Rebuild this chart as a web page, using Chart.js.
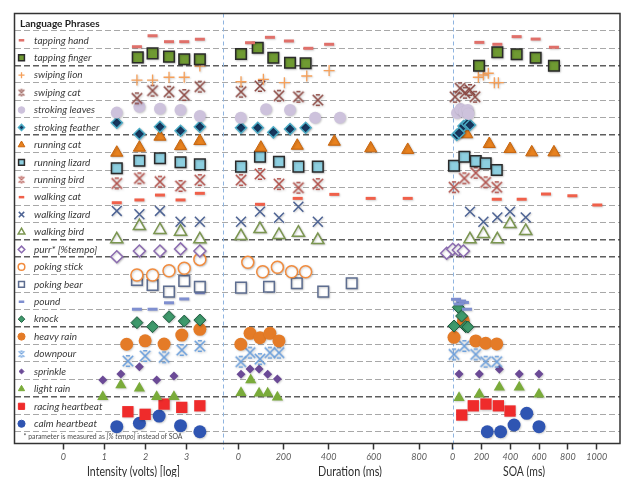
<!DOCTYPE html>
<html>
<head>
<meta charset="utf-8">
<script src="https://cdn.jsdelivr.net/npm/chart.js@4/dist/chart.umd.min.js"></script>
<style>
  html, body { margin: 0; padding: 0; background: #ffffff; }
  canvas { display: block; }
</style>
</head>
<body>
<canvas id="chart" width="625" height="477"></canvas>
<script>
// Phrase rows, top to bottom
const phrases = [
  'tapping hand', 'tapping finger', 'swiping lion', 'swiping cat',
  'stroking leaves', 'stroking feather', 'running cat', 'running lizard',
  'running bird', 'walking cat', 'walking lizard', 'walking bird',
  'purr* [%tempo]', 'poking stick', 'poking bear', 'pound', 'knock',
  'heavy rain', 'downpour', 'sprinkle', 'light rain', 'racing heartbeat',
  'calm heartbeat'
];

// Each point: [value, vertical position in row units (row k spans k..k+1)]
const intensityPoints = [
  [[1.79,0.92],[2.17,0.29],[2.57,0.63],[2.94,0.63],[3.32,0.49]],
  [[1.81,1.53],[2.17,1.30],[2.57,1.49],[2.94,1.64],[3.32,1.64]],
  [[1.79,2.83],[2.17,2.83],[2.57,2.67],[2.94,2.67],[3.32,2.03]],
  [[1.79,3.88],[2.17,3.44],[2.57,3.50],[2.94,3.69],[3.32,3.21]],
  [[1.30,4.70],[1.85,4.36],[2.35,4.48],[2.85,4.55],[3.32,4.89]],
  [[1.30,5.28],[1.85,5.93],[2.35,5.51],[2.85,5.74],[3.32,5.51]],
  [[1.30,7.00],[1.85,6.71],[2.35,6.08],[2.85,6.62],[3.32,6.33]],
  [[1.30,7.89],[1.85,7.46],[2.35,7.32],[2.85,7.55],[3.32,7.67]],
  [[1.30,8.76],[1.85,8.47],[2.35,8.66],[2.85,8.91],[3.32,8.57]],
  [[1.30,9.87],[1.85,9.71],[2.35,9.43],[2.85,9.71],[3.32,9.33]],
  [[1.30,10.34],[1.85,10.53],[2.35,10.34],[2.85,10.96],[3.32,10.96]],
  [[1.30,11.97],[1.85,11.21],[2.35,11.43],[2.85,11.53],[3.32,11.97]],
  [[1.30,12.97],[1.85,12.64],[2.35,12.64],[2.85,12.52],[3.32,12.64]],
  [[1.79,14.02],[2.17,14.02],[2.57,13.77],[2.94,13.63],[3.32,13.12]],
  [[1.79,14.30],[2.17,14.59],[2.57,14.97],[2.94,14.36],[3.32,14.69]],
  [[1.79,15.98],[2.17,15.98],[2.57,15.61],[2.94,15.39],[3.32,15.03]],
  [[1.79,16.75],[2.17,16.98],[2.57,16.41],[2.94,16.66],[3.32,16.60]],
  [[1.54,17.99],[1.99,17.79],[2.45,17.98],[2.88,17.46],[3.32,17.13]],
  [[1.57,18.95],[1.99,18.66],[2.45,18.74],[2.88,18.32],[3.32,18.09]],
  [[0.96,20.04],[1.40,19.70],[1.85,19.28],[2.27,20.04],[2.69,19.81]],
  [[0.96,21.00],[1.40,20.33],[1.85,20.52],[2.27,21.00],[2.69,21.00]],
  [[1.57,21.86],[1.99,22.01],[2.45,21.42],[2.88,21.61],[3.32,21.52]],
  [[1.30,22.72],[1.85,22.52],[2.33,22.11],[2.85,22.66],[3.32,23.01]]
];

// Duration in ms
const durationPoints = [
  [[52,0.69],[140,0.38],[224,0.59],[310,1.01],[402,0.78]],
  [[12,1.34],[86,0.98],[155,1.55],[229,1.84],[298,1.87]],
  [[12,2.93],[111,2.79],[204,2.98],[303,2.60],[402,2.29]],
  [[12,3.50],[96,3.17],[180,3.73],[266,3.79],[352,3.98]],
  [[11,4.99],[123,4.51],[229,4.55],[340,4.99],[450,4.99]],
  [[12,5.57],[86,5.57],[155,5.83],[229,5.64],[298,5.57]],
  [[100,6.71],[261,6.60],[425,6.37],[586,6.75],[750,6.84]],
  [[12,7.80],[96,7.23],[180,7.52],[266,7.80],[352,7.80]],
  [[12,8.57],[96,8.22],[180,8.80],[266,9.01],[352,8.80]],
  [[96,9.96],[263,9.62],[425,9.39],[586,9.62],[750,9.62]],
  [[12,10.96],[96,10.38],[180,10.73],[266,10.10],[352,10.96]],
  [[12,11.78],[96,11.38],[180,11.72],[266,11.59],[352,12.01]],
  [],
  [[42,13.29],[108,13.83],[173,13.57],[236,13.83],[298,13.83]],
  [[12,14.74],[136,14.69],[259,14.49],[376,14.97],[502,14.49]],
  [],
  [],
  [[11,17.99],[52,17.36],[96,17.61],[140,17.36],[180,17.80]],
  [[11,18.99],[52,18.47],[96,18.84],[140,18.47],[180,18.47]],
  [[12,19.71],[52,19.41],[92,19.41],[130,19.71],[173,19.98]],
  [[12,20.77],[55,20.04],[92,20.80],[130,20.80],[173,21.03]],
  [],
  []
];

// SOA in ms (purr row: % tempo)
const soaPoints = [
  [[185,0.67],[310,0.78],[444,0.34],[576,0.48],[703,0.95]],
  [[183,2.01],[310,1.24],[444,1.35],[576,1.55],[703,2.01]],
  [[178,2.67],[213,2.54],[247,2.44],[289,2.98],[317,2.98]],
  [[16,3.79],[51,3.30],[85,3.56],[120,3.40],[155,3.79]],
  [[30,4.72],[55,4.49],[80,4.66],[105,4.55],[110,4.78]],
  [[28,5.98],[45,5.87],[75,5.47],[100,5.35],[120,5.41]],
  [[97,5.94],[254,6.50],[398,6.79],[549,6.98],[703,6.98]],
  [[9,7.75],[81,7.23],[160,7.48],[229,7.61],[306,7.99]],
  [[9,8.98],[81,8.47],[160,8.15],[229,8.70],[306,8.98]],
  [[306,9.67],[479,9.67],[648,9.37],[831,9.47],[1004,10.00]],
  [[120,10.38],[213,10.96],[310,10.71],[398,10.38],[507,10.71]],
  [[120,11.97],[213,11.66],[310,11.97],[398,11.09],[507,11.49]],
  [[-76,12.97],[-42,12.77],[0,12.54],[39,12.58],[74,12.64]],
  [],
  [],
  [[23,15.41],[58,15.51],[78,15.59],[44,15.68],[99,15.98]],
  [[39,15.87],[62,16.37],[9,16.94],[90,16.98],[105,17.00]],
  [[74,16.64],[9,17.59],[160,17.80],[229,17.93],[306,17.97]],
  [[9,18.57],[81,18.09],[160,18.57],[229,18.99],[306,18.99]],
  [[44,19.70],[185,19.70],[324,19.43],[462,19.70],[599,19.70]],
  [[44,21.06],[185,20.86],[324,20.46],[462,20.46],[599,20.86]],
  [[63,22.05],[143,21.52],[231,21.42],[317,21.52],[398,21.82]],
  [[240,23.01],[333,23.01],[426,22.62],[514,21.95],[599,22.72]]
];

const intensityTicks = [0, 1, 2, 3];
const durationTicks = [0, 200, 400, 600, 800];
const soaTicks = [0, 200, 400, 600, 800, 1000];

// Row boundaries drawn as heavier separators between phrase groups
const groupBreaks = [2, 6, 12, 13, 17, 21];

// Marker look for each phrase (same order as phrases); 'barX' is a custom glyph
const markers = [
  { style: 'line',     r: 5,   fill: '#e0706a', stroke: '#e0706a', bw: 3 },
  { style: 'rect',     r: 7.5, fill: '#6f9a32', stroke: '#2a2a2a', bw: 1.5 },
  { style: 'cross',    r: 5.5, fill: '#f5a05a', stroke: '#f5a05a', bw: 1.3 },
  { style: 'barX',     r: 5.2, fill: '#8e4a44', stroke: '#8e4a44', bw: 1.6 },
  { style: 'circle',   r: 6,   fill: '#cdc2dc', stroke: '#cdc2dc', bw: 0 },
  { style: 'rectRot',  r: 5.5, fill: '#17375e', stroke: '#4bacc6', bw: 1.5 },
  { style: 'triangle', r: 7,   fill: '#e8821f', stroke: '#c9650d', bw: 1 },
  { style: 'rect',     r: 7.5, fill: '#8dcfe0', stroke: '#2a2a2a', bw: 1.5 },
  { style: 'barX',     r: 5.2, fill: '#b2504a', stroke: '#b2504a', bw: 1.6 },
  { style: 'line',     r: 5,   fill: '#f0604a', stroke: '#f0604a', bw: 3 },
  { style: 'crossRot', r: 7,   fill: '#4d6394', stroke: '#4d6394', bw: 1.5 },
  { style: 'triangle', r: 7,   fill: '#ffffff', stroke: '#7b9650', bw: 1.5 },
  { style: 'rectRot',  r: 6,   fill: '#ffffff', stroke: '#8b6bb0', bw: 1.5 },
  { style: 'circle',   r: 6,   fill: '#ffffff', stroke: '#f28c3e', bw: 1.5 },
  { style: 'rect',     r: 7.5, fill: '#ffffff', stroke: '#5d6d90', bw: 1.5 },
  { style: 'line',     r: 5,   fill: '#7f8fd0', stroke: '#7f8fd0', bw: 3 },
  { style: 'rectRot',  r: 6,   fill: '#3f9a6c', stroke: '#1f5d40', bw: 1 },
  { style: 'circle',   r: 6.5, fill: '#e47b27', stroke: '#e47b27', bw: 0 },
  { style: 'barX',     r: 5.2, fill: '#6b9fdc', stroke: '#6b9fdc', bw: 1.6 },
  { style: 'rectRot',  r: 4.5, fill: '#6b4a96', stroke: '#6b4a96', bw: 0 },
  { style: 'triangle', r: 6.5, fill: '#7aab3a', stroke: '#7aab3a', bw: 0 },
  { style: 'rect',     r: 8,   fill: '#ef2b2b', stroke: '#ef2b2b', bw: 0 },
  { style: 'circle',   r: 6.5, fill: '#2f55b2', stroke: '#2f55b2', bw: 0 }
];

const FONT = 'Lato, "Open Sans", sans-serif';
Chart.defaults.font.family = FONT;

// X with short serif bars on top and bottom, drawn once into a small canvas
function barX(color, half, lw) {
  const size = Math.ceil(half * 2 + lw + 2);
  const c = document.createElement('canvas');
  c.width = c.height = size;
  const g = c.getContext('2d');
  const m = size / 2, a = m - half, b = m + half;
  g.strokeStyle = color;
  g.lineWidth = lw;
  g.beginPath();
  g.moveTo(a, a); g.lineTo(b, b);
  g.moveTo(b, a); g.lineTo(a, b);
  g.moveTo(m - half * 0.4, a); g.lineTo(m + half * 0.4, a);
  g.moveTo(m - half * 0.4, b); g.lineTo(m + half * 0.4, b);
  g.stroke();
  return c;
}
function plotStyle(m) { return m.style === 'barX' ? barX(m.stroke, m.r, m.bw) : m.style; }

// Build one scatter dataset per phrase and panel
const panels = [
  { id: 'xI', points: intensityPoints },
  { id: 'xD', points: durationPoints },
  { id: 'xS', points: soaPoints }
];
const datasets = [];
phrases.forEach((name, i) => {
  const m = markers[i];
  const style = plotStyle(m);
  panels.forEach(p => {
    const pts = p.points[i];
    if (!pts.length) return;
    datasets.push({
      label: name,
      xAxisID: p.id,
      yAxisID: 'y',
      data: pts.map(([x, y]) => ({ x, y })),
      pointStyle: style,
      pointRadius: m.r,
      pointBackgroundColor: m.fill,
      pointBorderColor: m.stroke,
      pointBorderWidth: m.bw,
      showLine: false,
      clip: false
    });
  });
});

// Bottom panel axes sit side by side in one stack
function panelAxis(weight, min, max, ticks) {
  return {
    type: 'linear',
    position: 'bottom',
    stack: 'panels',
    stackWeight: weight,
    min, max,
    afterBuildTicks: s => { s.ticks = ticks.map(v => ({ value: v })); },
    afterFit: s => { s.height = 33.5; },
    ticks: {
      autoSkip: false, maxRotation: 0, padding: 2,
      color: '#5a5a5a',
      font: { size: 9, style: 'italic', family: FONT },
      callback: v => String(v)
    },
    grid: {
      drawOnChartArea: false, drawTicks: true,
      tickLength: 6, tickColor: '#333333', tickWidth: 1.5
    },
    border: { display: false }
  };
}

const axisTitles = [
  { text: 'Intensity (volts) [log]', cx: 133.5, width: 93 },
  { text: 'Duration (ms)', cx: 350, width: 64 },
  { text: 'SOA (ms)', cx: 524, width: 42 }
];

// Soft drop shadow under the markers
const markerShadow = {
  id: 'markerShadow',
  beforeDatasetsDraw(chart) {
    const ctx = chart.ctx;
    ctx.save();
    ctx.shadowColor = 'rgba(0,0,0,0.22)';
    ctx.shadowBlur = 2;
    ctx.shadowOffsetX = 0.8;
    ctx.shadowOffsetY = 0.8;
  },
  afterDatasetsDraw(chart) { chart.ctx.restore(); }
};

const phraseLegend = {
  id: 'phraseLegend',
  beforeDatasetsDraw(chart) {
    const { ctx, chartArea, scales } = chart;
    const ys = scales.y;
    ctx.save();
    // panel dividers
    ctx.strokeStyle = '#8fb4e0';
    ctx.lineWidth = 1;
    ctx.setLineDash([4, 3]);
    [scales.xD.left, scales.xS.left].forEach(px => {
      const x = Math.round(px) + 0.5;
      ctx.beginPath();
      ctx.moveTo(x, chartArea.top);
      ctx.lineTo(x, chartArea.bottom + 6);
      ctx.stroke();
    });
    ctx.setLineDash([]);

    // header
    ctx.textBaseline = 'middle';
    ctx.textAlign = 'left';
    ctx.fillStyle = '#1e1e1e';
    ctx.font = 'bold 10px ' + FONT;
    ctx.fillText('Language Phrases', chartArea.left + 5.5, ys.getPixelForValue(-0.42));

    // rows
    phrases.forEach((name, i) => {
      const cy = ys.getPixelForValue(i + 0.55);
      const m = markers[i];
      const lw = m.style === 'line' ? 2.5 : Math.max(m.bw, 1);
      const r = m.r * 0.55;
      ctx.fillStyle = m.fill;
      ctx.strokeStyle = m.stroke;
      ctx.lineWidth = lw;
      const style = m.style === 'barX' ? barX(m.stroke, r, 1.3) : m.style;
      Chart.helpers.drawPoint(ctx, { pointStyle: style, radius: r, rotation: 0, borderWidth: lw },
        chartArea.left + 7, cy);
      ctx.fillStyle = '#3a3a3a';
      ctx.font = 'italic 10px ' + FONT;
      ctx.fillText(name, chartArea.left + 19.5, cy);
    });

    // footnote, squeezed to the width of its line
    const fy = ys.getPixelForValue(23.3);
    const parts = [
      ['* parameter is measured as ', ''],
      ['[% tempo]', 'italic '],
      [' instead of SOA', '']
    ];
    let total = 0;
    parts.forEach(([t, st]) => { ctx.font = st + '8px ' + FONT; total += ctx.measureText(t).width; });
    const sx = Math.min(1, 159 / total);
    ctx.translate(chartArea.left + 9, fy);
    ctx.scale(sx, 1);
    ctx.fillStyle = '#4a4a4a';
    let fx = 0;
    parts.forEach(([t, st]) => {
      ctx.font = st + '8px ' + FONT;
      ctx.fillText(t, fx, 0);
      fx += ctx.measureText(t).width;
    });
    ctx.restore();
  },
  afterDraw(chart) {
    const { ctx, chartArea } = chart;
    ctx.save();
    // frame
    ctx.strokeStyle = '#333333';
    ctx.lineWidth = 1.5;
    ctx.strokeRect(chartArea.left, chartArea.top,
      chartArea.right - chartArea.left, chartArea.bottom - chartArea.top);
    // panel titles
    ctx.fillStyle = '#2e2e2e';
    ctx.textAlign = 'center';
    ctx.textBaseline = 'middle';
    ctx.font = '13px ' + FONT;
    axisTitles.forEach(t => {
      const w = ctx.measureText(t.text).width;
      const sx = Math.min(1, t.width / w);
      ctx.save();
      ctx.translate(t.cx, 471.5);
      ctx.scale(sx, 1);
      ctx.fillText(t.text, 0, 0);
      ctx.restore();
    });
    ctx.restore();
  }
};

new Chart(document.getElementById('chart'), {
  type: 'scatter',
  data: { datasets },
  plugins: [phraseLegend, markerShadow],
  options: {
    responsive: false,
    animation: false,
    events: [],
    layout: { autoPadding: false, padding: { top: 13.5, left: 14.5, right: 5, bottom: 0 } },
    plugins: { legend: { display: false }, tooltip: { enabled: false } },
    scales: {
      xI: panelAxis(208.8, -1.1865, 3.890, intensityTicks),
      xD: panelAxis(229.4, -66.4, 949.1, durationTicks),
      xS: panelAxis(167.3, 0, 1161.8, soaTicks),
      y: {
        type: 'linear',
        reverse: true,
        min: -0.987,
        max: 23.683,
        afterBuildTicks: s => { s.ticks = Array.from({ length: 24 }, (_, k) => ({ value: k })); },
        afterFit: s => { s.width = 0; },
        ticks: { display: false },
        grid: {
          drawTicks: false,
          color: c => groupBreaks.includes(c.tick.value) ? '#5e5e5e' : '#a8a8a8',
          lineWidth: c => groupBreaks.includes(c.tick.value) ? 1.6 : 1
        },
        border: { display: false, dash: [6, 3] }
      }
    }
  }
});
</script>
</body>
</html>
